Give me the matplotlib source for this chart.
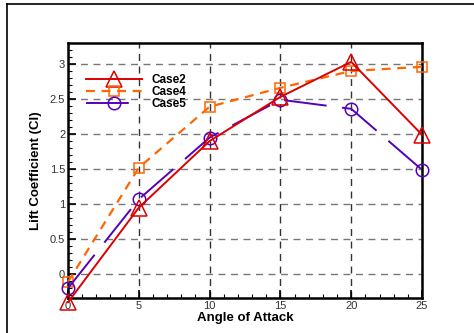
import matplotlib
matplotlib.use("Agg")
import matplotlib.pyplot as plt
from matplotlib.lines import Line2D
from matplotlib.ticker import MultipleLocator

# angle of attack (deg)
alpha = [0, 5, 10, 15, 20, 25]

# lift coefficient per case
cl_case2 = [-0.40, 0.95, 1.90, 2.53, 3.03, 1.99]
cl_case4 = [-0.11, 1.52, 2.39, 2.66, 2.90, 2.96]
cl_case5 = [-0.20, 1.07, 1.95, 2.49, 2.36, 1.49]

labels = ["Case2", "Case4", "Case5"]

plt.rcParams["font.family"] = ["Liberation Sans", "DejaVu Sans"]

fig = plt.figure(figsize=(4.74, 3.33), dpi=100)
ax = fig.add_axes([0.1435, 0.105, 0.7468, 0.766])

# outer frame (only left and top edges show in the crop)
fig.add_artist(Line2D([7 / 474, 7 / 474], [0, 1 - 3.5 / 333], transform=fig.transFigure,
                      color="black", lw=1.2))
fig.add_artist(Line2D([7 / 474, 1], [1 - 3.5 / 333, 1 - 3.5 / 333], transform=fig.transFigure,
                      color="black", lw=1.2))

ax.plot(alpha, cl_case2, color="#dd0000", lw=1.4, marker="^", ms=11, mfc="none",
        mew=1.1, clip_on=False, label=labels[0], zorder=5)
ax.plot(alpha, cl_case4, color="#ff6600", lw=1.6, ls=(0, (4, 3)), marker="s", ms=7,
        mfc="none", mew=1.1, clip_on=False, label=labels[1], zorder=4)
ax.plot(alpha, cl_case5, color="#5500bb", lw=1.4, ls=(0, (22, 8)), marker="o", ms=9,
        mfc="none", mew=1.1, clip_on=False, label=labels[2], zorder=4)

ax.set_xlim(0, 25)
ax.set_ylim(-0.34, 3.3)
ax.xaxis.set_major_locator(MultipleLocator(5))
ax.xaxis.set_minor_locator(MultipleLocator(1))
ax.yaxis.set_major_locator(MultipleLocator(0.5))
ax.yaxis.set_minor_locator(MultipleLocator(0.1))
ax.set_yticks([0, 0.5, 1, 1.5, 2, 2.5, 3])
ax.set_yticklabels(["0", "0.5", "1", "1.5", "2", "2.5", "3"])

ax.tick_params(which="both", direction="in", top=False, right=False, colors="black",
               labelcolor="#333333", labelsize=8)
ax.tick_params(which="major", length=6, width=1.2, pad=2)
ax.tick_params(which="minor", length=3, width=0.8)

for sp in ax.spines.values():
    sp.set_linewidth(1.8)

ax.grid(True, axis="x", which="major", color="#333333", ls=(0, (5, 4)), lw=1.0)
ax.grid(True, axis="y", which="major", color="#777777", ls=(0, (5, 4)), lw=1.0)
ax.set_axisbelow(True)

ax.set_xlabel("Angle of Attack", fontsize=9.5, fontweight="bold", labelpad=1)
ax.set_ylabel("Lift Coefficient (Cl)", fontsize=9.5, fontweight="bold", labelpad=6)

ax.legend(loc="upper left", bbox_to_anchor=(0.02, 0.92), frameon=False,
          handlelength=4.8, handletextpad=0.8, labelspacing=0.02,
          prop={"weight": "bold", "size": 8.5})

plt.savefig("out.png", dpi=100)
